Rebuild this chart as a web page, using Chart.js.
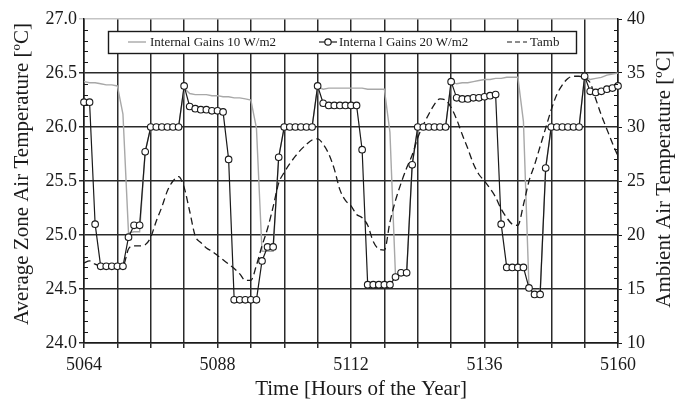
<!DOCTYPE html>
<html>
<head>
<meta charset="utf-8">
<script src="https://cdn.jsdelivr.net/npm/chart.js@4.4.1/dist/chart.umd.min.js"></script>
<style>
  body { margin: 0; background: #fff; }
  canvas { display: block; }
</style>
</head>
<body>
<canvas id="zoneChart" width="675" height="399"></canvas>
<script>
// hourly time steps, hours of the year
const startHour = 5064;
const hours = Array.from({ length: 97 }, (_, i) => startHour + i);

// zone air temperature, internal gains 10 W/m2 [ºC]
const gains10 = [
  26.42, 26.41, 26.41, 26.40, 26.39, 26.39, 26.38, 26.12, 25.02, 25.03, 25.03, 25.77,
  26.00, 26.00, 26.00, 26.00, 26.00, 26.00, 26.36, 26.31, 26.30, 26.30, 26.30, 26.29,
  26.29, 26.28, 26.28, 26.27, 26.27, 26.26, 26.25, 25.99, 24.85, 24.85, 24.85, 25.72,
  26.00, 26.00, 26.00, 26.00, 26.00, 26.00, 26.37, 26.35, 26.36, 26.36, 26.36, 26.36,
  26.36, 26.36, 26.36, 26.35, 26.35, 26.35, 26.35, 25.95, 24.62, 24.64, 24.64, 25.65,
  26.00, 26.00, 26.00, 26.00, 26.00, 26.00, 26.42, 26.40, 26.41, 26.41, 26.42, 26.43,
  26.44, 26.44, 26.45, 26.45, 26.46, 26.46, 26.46, 26.05, 24.51, 24.45, 24.45, 25.62,
  26.00, 26.00, 26.00, 26.00, 26.00, 26.00, 26.47, 26.44, 26.45, 26.46, 26.48, 26.49,
  26.50
];

// zone air temperature, internal gains 20 W/m2 [ºC]
const gains20 = [
  26.23, 26.23, 25.10, 24.71, 24.71, 24.71, 24.71, 24.71, 24.98, 25.09, 25.09, 25.77,
  26.00, 26.00, 26.00, 26.00, 26.00, 26.00, 26.38, 26.19, 26.17, 26.16, 26.16, 26.15,
  26.15, 26.14, 25.70, 24.40, 24.40, 24.40, 24.40, 24.40, 24.76, 24.89, 24.89, 25.72,
  26.00, 26.00, 26.00, 26.00, 26.00, 26.00, 26.38, 26.22, 26.20, 26.20, 26.20, 26.20,
  26.20, 26.20, 25.79, 24.54, 24.54, 24.54, 24.54, 24.54, 24.61, 24.65, 24.65, 25.65,
  26.00, 26.00, 26.00, 26.00, 26.00, 26.00, 26.42, 26.27, 26.26, 26.26, 26.27, 26.27,
  26.28, 26.29, 26.30, 25.10, 24.70, 24.70, 24.70, 24.70, 24.51, 24.45, 24.45, 25.62,
  26.00, 26.00, 26.00, 26.00, 26.00, 26.00, 26.47, 26.33, 26.32, 26.33, 26.35, 26.36,
  26.38
];

// ambient air temperature [ºC], right axis
const tamb = [
  17.4, 17.6, 17.3, 17.1, 17.0, 17.0, 17.0, 17.1, 18.7, 19.0, 19.0, 19.1,
  19.8, 21.3, 22.6, 24.1, 25.0, 25.4, 24.4, 22.2, 19.9, 19.3, 18.8, 18.5,
  18.1, 17.7, 17.3, 16.9, 16.4, 15.8, 15.8, 17.2, 19.0, 20.6, 22.6, 24.8,
  25.8, 26.6, 27.3, 27.9, 28.4, 28.8, 28.9, 28.4, 27.5, 26.1, 24.2, 23.2,
  22.7, 21.9, 21.6, 20.9, 19.4, 18.7, 18.6, 21.2, 23.2, 24.8, 26.2, 27.4,
  29.0, 30.2, 31.2, 32.1, 32.6, 32.5, 31.8, 30.7, 29.3, 28.0, 26.6, 25.6,
  25.0, 24.3, 23.5, 22.4, 21.6, 21.0, 20.9, 22.8, 25.0, 26.5, 28.2, 29.9,
  31.6, 33.0, 33.9, 34.5, 34.7, 34.7, 34.5, 34.1, 32.6, 31.1, 29.8, 28.5,
  27.3
];

const xLabels = [5064, 5088, 5112, 5136, 5160];

const serif = '"Liberation Serif", "DejaVu Serif", serif';
const ink = '#1a1a1a';
const gridInk = '#2a2a2a';

function pairs(values) {
  return values.map((v, i) => ({ x: hours[i], y: v }));
}

// minor ticks, axis titles and the boxed legend
const decorations = {
  id: 'decorations',
  afterDraw(chart) {
    const { ctx, chartArea: a, scales } = chart;
    ctx.save();

    ctx.strokeStyle = ink;
    ctx.lineWidth = 1;
    ctx.beginPath();
    for (let i = 1; i < 30; i++) {
      if (i % 5 === 0) continue;
      const y = Math.round(scales.y.getPixelForValue(24 + i * 0.1)) + 0.5;
      ctx.moveTo(a.left, y);
      ctx.lineTo(a.left + 4, y);
    }
    for (let t = 11; t < 40; t++) {
      if (t % 5 === 0) continue;
      const y = Math.round(scales.y2.getPixelForValue(t)) + 0.5;
      ctx.moveTo(a.right - 4, y);
      ctx.lineTo(a.right, y);
    }
    ctx.stroke();

    // axis titles
    ctx.fillStyle = ink;
    ctx.font = '21px ' + serif;
    ctx.textAlign = 'center';
    ctx.textBaseline = 'middle';
    ctx.save();
    ctx.translate(22, 174);
    ctx.rotate(-Math.PI / 2);
    ctx.fillText('Average Zone Air Temperature [ºC]', 0, 0);
    ctx.restore();
    ctx.save();
    ctx.translate(664, 179);
    ctx.rotate(-Math.PI / 2);
    ctx.fillText('Ambient Air Temperature [ºC]', 0, 0);
    ctx.restore();
    ctx.textBaseline = 'alphabetic';
    ctx.fillText('Time [Hours of the Year]', 361, 395);

    // legend
    const top = 31, h = 22, left = 108, w = 468, mid = top + h / 2;
    ctx.fillStyle = '#fff';
    ctx.fillRect(left, top, w, h);
    ctx.strokeStyle = ink;
    ctx.lineWidth = 1.4;
    ctx.strokeRect(left + 0.5, top + 0.5, w, h);

    ctx.font = '13px ' + serif;
    ctx.textAlign = 'left';
    ctx.textBaseline = 'middle';
    ctx.fillStyle = ink;

    ctx.strokeStyle = '#a8a8a8';
    ctx.lineWidth = 1.4;
    ctx.beginPath();
    ctx.moveTo(128, mid); ctx.lineTo(146, mid);
    ctx.stroke();
    ctx.fillText('Internal Gains 10 W/m2', 150, mid + 1);

    ctx.strokeStyle = ink;
    ctx.lineWidth = 1.2;
    ctx.beginPath();
    ctx.moveTo(319, mid); ctx.lineTo(337, mid);
    ctx.stroke();
    ctx.beginPath();
    ctx.arc(328, mid, 3.2, 0, Math.PI * 2);
    ctx.fillStyle = '#fff';
    ctx.fill();
    ctx.stroke();
    ctx.fillStyle = ink;
    ctx.fillText('Interna l Gains 20 W/m2', 339, mid + 1);

    ctx.setLineDash([5, 3]);
    ctx.beginPath();
    ctx.moveTo(507, mid); ctx.lineTo(527, mid);
    ctx.stroke();
    ctx.setLineDash([]);
    ctx.fillText('Tamb', 530, mid + 1);

    ctx.restore();
  }
};

new Chart(document.getElementById('zoneChart'), {
  type: 'line',
  data: {
    datasets: [
      {
        label: 'Interna l Gains 20 W/m2',
        data: pairs(gains20),
        yAxisID: 'y',
        borderColor: ink,
        borderWidth: 1.2,
        pointRadius: 3.3,
        pointBackgroundColor: '#fff',
        pointBorderColor: ink,
        pointBorderWidth: 1.1,
        tension: 0,
        clip: 6
      },
      {
        label: 'Tamb',
        data: pairs(tamb),
        yAxisID: 'y2',
        borderColor: ink,
        borderWidth: 1.3,
        borderDash: [7, 4],
        pointRadius: 0,
        cubicInterpolationMode: 'monotone'
      },
      {
        label: 'Internal Gains 10 W/m2',
        data: pairs(gains10),
        yAxisID: 'y',
        borderColor: '#a8a8a8',
        borderWidth: 1.4,
        pointRadius: 0,
        tension: 0
      }
    ]
  },
  options: {
    responsive: false,
    devicePixelRatio: 1,
    animation: false,
    layout: { padding: { top: 19, left: 0, right: 0, bottom: 0 } },
    plugins: { legend: { display: false }, tooltip: { enabled: false } },
    scales: {
      x: {
        type: 'linear',
        min: 5064,
        max: 5160,
        afterFit(scale) { scale.height = 56; },
        afterBuildTicks(scale) {
          scale.ticks = [];
          for (let v = 5064; v <= 5160; v += 6) scale.ticks.push({ value: v });
        },
        ticks: {
          autoSkip: false,
          maxRotation: 0,
          padding: 6,
          color: ink,
          font: { family: serif, size: 18 },
          callback: v => (xLabels.includes(v) ? String(v) : '')
        },
        grid: { color: gridInk, lineWidth: 1.5, tickLength: 5 },
        border: { color: ink, width: 1.5 }
      },
      y: {
        position: 'left',
        min: 24,
        max: 27,
        afterFit(scale) { scale.width = 84; },
        ticks: {
          stepSize: 0.5,
          padding: 2,
          color: ink,
          font: { family: serif, size: 18 },
          callback: v => v.toFixed(1)
        },
        grid: {
          color: ctx => (ctx.tick && ctx.tick.value === 27 ? '#c4c4c4' : gridInk),
          lineWidth: 1.5,
          tickLength: 5
        },
        border: { color: ink, width: 1.5 }
      },
      y2: {
        position: 'right',
        min: 10,
        max: 40,
        afterFit(scale) { scale.width = 57; },
        ticks: {
          stepSize: 5,
          padding: 5,
          color: ink,
          font: { family: serif, size: 18 }
        },
        grid: { drawOnChartArea: false, color: ink, tickLength: 4 },
        border: { color: ink, width: 1.5 }
      }
    }
  },
  plugins: [decorations]
});
</script>
</body>
</html>
